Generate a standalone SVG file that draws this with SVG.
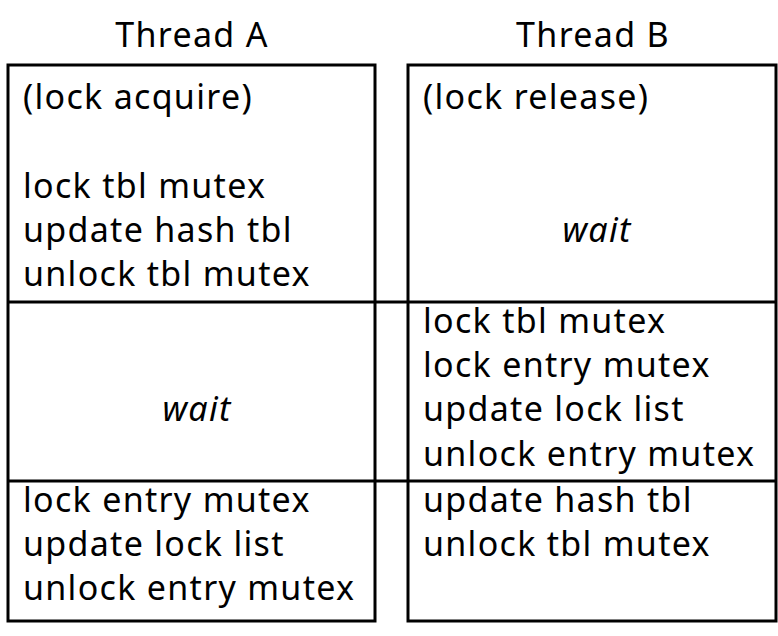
<svg xmlns="http://www.w3.org/2000/svg" width="778" height="636" viewBox="0 0 778 636">
<style>
text{font-family:"Noto Sans","Open Sans",sans-serif;font-size:34px;letter-spacing:1.3px;fill:#000}
.h{text-anchor:middle}
.w{font-style:italic;text-anchor:middle}
.box{fill:none;stroke:#000;stroke-width:3}
.ln{stroke:#000;stroke-width:3}
</style>
<rect width="778" height="636" fill="#fff"/>
<g id="titles">
<text class="h" x="192" y="47">Thread A</text>
<text class="h" x="593" y="47">Thread B</text>
</g>
<g id="threadA">
<rect class="box" x="8" y="65" width="367" height="556"/>
<text x="23" y="109">(lock acquire)</text>
<text x="23" y="198">lock tbl mutex</text>
<text x="23" y="242">update hash tbl</text>
<text x="23" y="286">unlock tbl mutex</text>
<text class="w" x="197" y="421">wait</text>
<text x="23" y="512">lock entry mutex</text>
<text x="23" y="556">update lock list</text>
<text x="23" y="600">unlock entry mutex</text>
</g>
<g id="threadB">
<rect class="box" x="408" y="65" width="368" height="556"/>
<text x="423" y="109">(lock release)</text>
<text class="w" x="597" y="242">wait</text>
<text x="423" y="333">lock tbl mutex</text>
<text x="423" y="377">lock entry mutex</text>
<text x="423" y="421">update lock list</text>
<text x="423" y="466">unlock entry mutex</text>
<text x="423" y="512">update hash tbl</text>
<text x="423" y="556">unlock tbl mutex</text>
</g>
<g id="connectors">
<line class="ln" x1="8" y1="302" x2="776" y2="302"/>
<line class="ln" x1="8" y1="481" x2="776" y2="481"/>
</g>
</svg>
